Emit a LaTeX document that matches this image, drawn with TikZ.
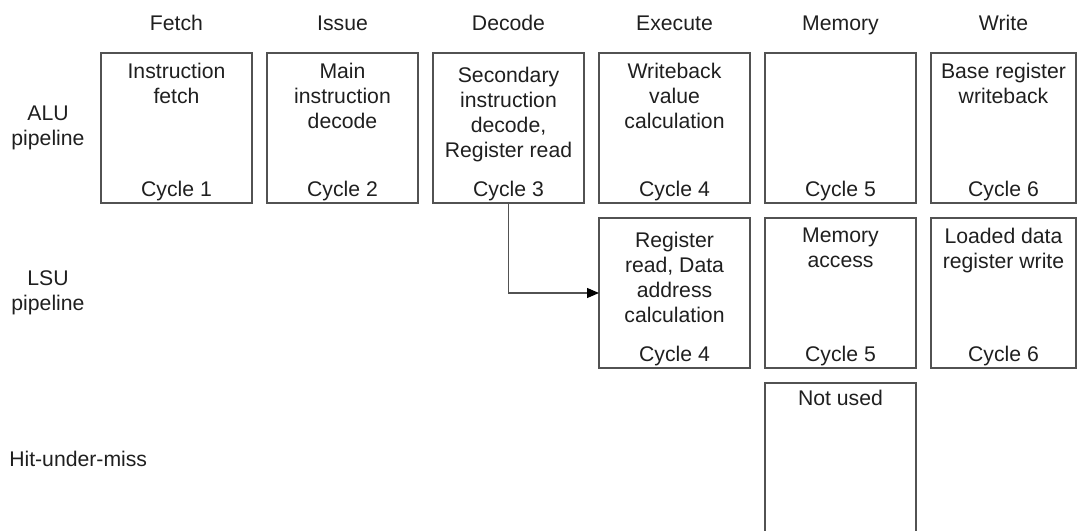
\documentclass[tikz,border=0pt]{standalone}
\usepackage{fontspec}
\setmainfont{Liberation Sans}
\usepackage{tikz}
\usetikzlibrary{arrows.meta, positioning}

\definecolor{edgegray}{gray}{0.32}
\definecolor{inkgray}{gray}{0.12}

\begin{document}
\begin{tikzpicture}[x=0.75pt, y=-0.75pt, font=\fontsize{15.9}{18.75}\selectfont, text=inkgray]
        % --- STYLES ---
        \tikzset{
            stage/.style={draw=edgegray, line width=0.9pt, rectangle, minimum width=113.25pt, minimum height=112.5pt, inner sep=0pt, outer sep=0pt},
            head/.style={anchor=base, yshift=16.5pt},
            desc/.style={anchor=north, yshift=-7.5pt, align=center, inner sep=0pt},
            cyc/.style={anchor=base, yshift=5.25pt, inner sep=0pt},
            rowlabel/.style={align=center, inner sep=0pt},
            flow/.style={draw=edgegray, line width=0.9pt, -{Triangle[length=9pt, width=7.5pt, color=black]}}
        }

        \useasboundingbox (0,0) rectangle (1077,531);
        \clip (0,0) rectangle (1077,531);

        % --- ALU ROW ---
        \node [stage] (alu_fetch) at (176.5,128) {};
        \node [stage, right=11.25pt of alu_fetch] (alu_issue) {};
        \node [stage, right=11.25pt of alu_issue] (alu_dec) {};
        \node [stage, right=11.25pt of alu_dec] (alu_exec) {};
        \node [stage, right=11.25pt of alu_exec] (alu_mem) {};
        \node [stage, right=11.25pt of alu_mem, minimum width=108.75pt] (alu_write) {};

        % --- LSU ROW ---
        \node [stage, below=11.25pt of alu_exec] (lsu_exec) {};
        \node [stage, below=11.25pt of alu_mem] (lsu_mem) {};
        \node [stage, below=11.25pt of alu_write, minimum width=108.75pt] (lsu_write) {};

        % --- HIT-UNDER-MISS ROW ---
        \node [stage, below=11.25pt of lsu_mem] (hum_mem) {};

        % --- STAGE NAMES ---
        \node [head] (h_fetch) at (alu_fetch.north) {Fetch};
        \node [head] (h_issue) at (alu_issue.north) {Issue};
        \node [head] (h_dec) at (alu_dec.north) {Decode};
        \node [head] (h_exec) at (alu_exec.north) {Execute};
        \node [head] (h_mem) at (alu_mem.north) {Memory};
        \node [head] (h_write) at (alu_write.north) {Write};

        % --- ROW NAMES ---
        \node [rowlabel] (l_alu) at (48,128) {ALU\\pipeline};
        \node [rowlabel] (l_lsu) at (48,293) {LSU\\pipeline};
        \node [rowlabel, anchor=west] (l_hum) at (9,459) {Hit-under-miss};

        % --- BOX TEXTS ---
        \node [desc] (alu_fetch_t) at (alu_fetch.north) {Instruction\\fetch};
        \node [desc] (alu_issue_t) at (alu_issue.north) {Main\\instruction\\decode};
        \node [desc, yshift=-3pt] (alu_dec_t) at (alu_dec.north) {Secondary\\instruction\\decode,\\Register read};
        \node [desc] (alu_exec_t) at (alu_exec.north) {Writeback\\value\\calculation};
        \node [desc] (alu_write_t) at (alu_write.north) {Base register\\writeback};

        \node [desc, yshift=-3pt] (lsu_exec_t) at (lsu_exec.north) {Register\\read, Data\\address\\calculation};
        \node [desc] (lsu_mem_t) at (lsu_mem.north) {Memory\\access};
        \node [desc] (lsu_write_t) at (lsu_write.north) {Loaded data\\register write};

        \node [desc, yshift=2pt] (hum_mem_t) at (hum_mem.north) {Not used};

        % --- CYCLES ---
        \node [cyc] (alu_fetch_c) at (alu_fetch.south) {Cycle 1};
        \node [cyc] (alu_issue_c) at (alu_issue.south) {Cycle 2};
        \node [cyc] (alu_dec_c) at (alu_dec.south) {Cycle 3};
        \node [cyc] (alu_exec_c) at (alu_exec.south) {Cycle 4};
        \node [cyc] (alu_mem_c) at (alu_mem.south) {Cycle 5};
        \node [cyc] (alu_write_c) at (alu_write.south) {Cycle 6};
        \node [cyc] (lsu_exec_c) at (lsu_exec.south) {Cycle 4};
        \node [cyc] (lsu_mem_c) at (lsu_mem.south) {Cycle 5};
        \node [cyc] (lsu_write_c) at (lsu_write.south) {Cycle 6};

        % --- DECODE TO LSU ---
        \draw [flow] (alu_dec.south) |- (lsu_exec.west);

    \end{tikzpicture}
\end{document}
